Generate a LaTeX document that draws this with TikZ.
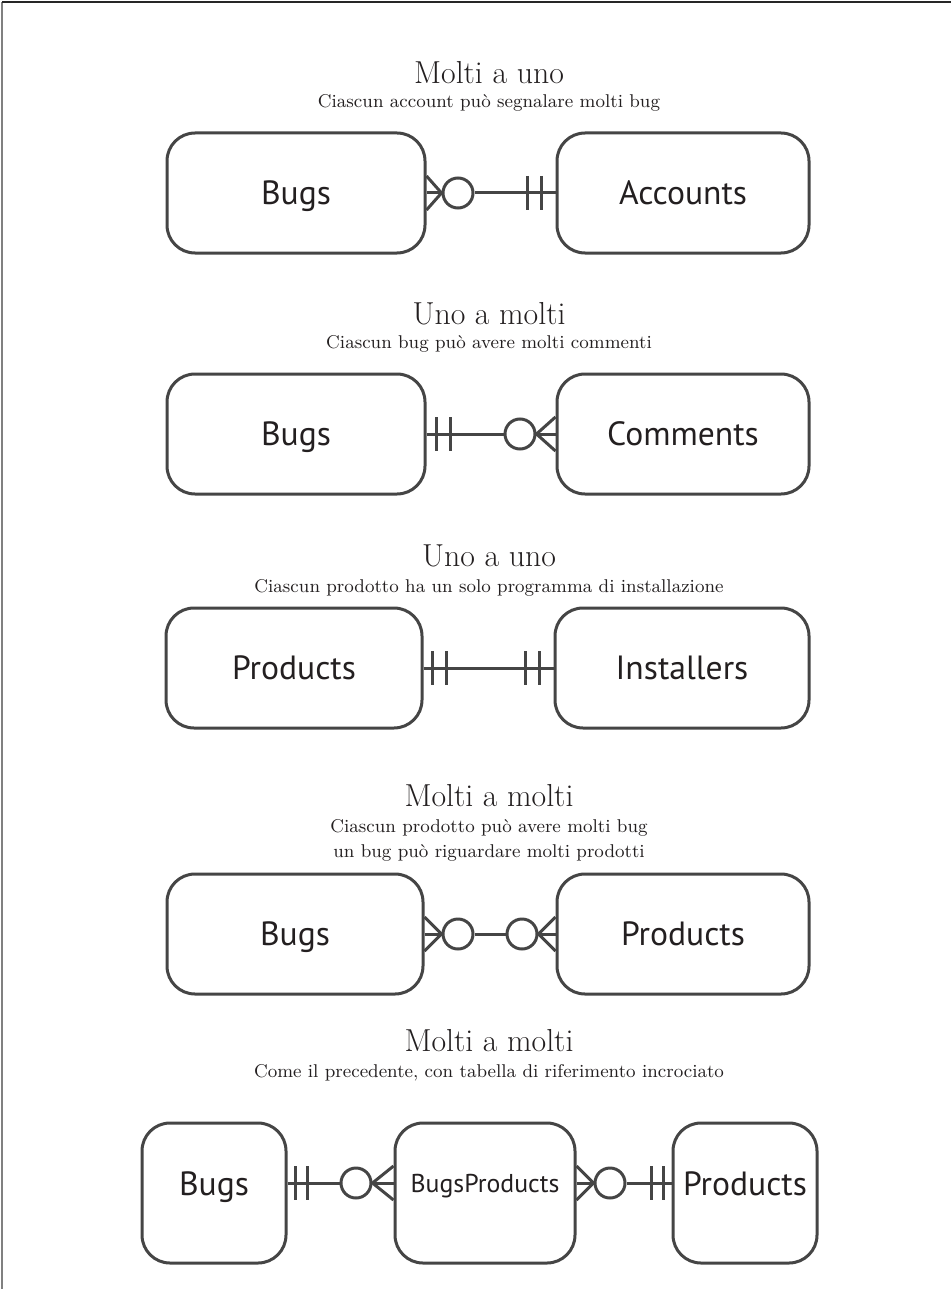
\documentclass[tikz,border=0pt]{standalone}
\usepackage{fontspec}
\newfontfamily\boxfont{PT Sans}
\usetikzlibrary{calc}
\definecolor{ergray}{HTML}{454545}
\definecolor{ink}{HTML}{231F20}
\tikzset{
  entity/.style={draw=ergray, line width=1.5pt, rounded corners=14pt,
    minimum height=60pt, inner sep=0pt, text=ink,
    text height=12.5pt, text depth=0.7pt,
    font=\boxfont\fontsize{16.8}{18}\selectfont},
  zero/.style={circle, draw=ergray, line width=1.5pt, fill=white,
    minimum size=15pt, inner sep=0pt},
  link/.style={draw=ergray, line width=1.5pt},
  title/.style={anchor=base, text=ink, font=\fontsize{15.9}{18}\selectfont},
  subtitle/.style={anchor=base, text=ink, font=\fontsize{9.25}{11}\selectfont}
}
\begin{document}
\begin{tikzpicture}[x=0.5pt, y=-0.5pt]
    \useasboundingbox (0,0) rectangle (951,1289);
    \draw [gray, line width=0.6pt] (2,1289) -- (2,2);
    \draw [black!85, line width=0.8pt] (2,2) -- (951,2);

    \node [title]    (titleA) at (489,84)  {Molti a uno};
    \node [subtitle] (subA)   at (489,108) {Ciascun account può segnalare molti bug};
    \node [entity, minimum width=129pt]  (bugsA)    at (296,193) {Bugs};
    \node [entity, minimum width=126pt]  (accounts) at (683,193) {Accounts};
    \node [zero] (zeroA) at (458,193) {};
    \draw [link] (bugsA) -- (zeroA) -- (accounts);
    \draw [link] ($(bugsA.east)+(0,-17)$) -- (zeroA.west) -- ($(bugsA.east)+(0,17)$);
    \draw [link] ($(accounts.west)+(-14,-17)$) -- ($(accounts.west)+(-14,17)$);
    \draw [link] ($(accounts.west)+(-28,-17)$) -- ($(accounts.west)+(-28,17)$);

    \node [title]    (titleB) at (489,324) {Uno a molti};
    \node [subtitle] (subB)   at (489,348) {Ciascun bug può avere molti commenti};
    \node [entity, minimum width=129pt]  (bugsB)    at (296,434) {Bugs};
    \node [entity, minimum width=126pt]  (comments) at (683,434) {Comments};
    \node [zero] (zeroB) at (520,434) {};
    \draw [link] (bugsB) -- (zeroB) -- (comments);
    \draw [link] ($(comments.west)+(0,-17)$) -- (zeroB.east) -- ($(comments.west)+(0,17)$);
    \draw [link] ($(bugsB.east)+(10,-17)$) -- ($(bugsB.east)+(10,17)$);
    \draw [link] ($(bugsB.east)+(24,-17)$) -- ($(bugsB.east)+(24,17)$);

    \node [title]    (titleC) at (489,566) {Uno a uno};
    \node [subtitle] (subC)   at (489,592) {Ciascun prodotto ha un solo programma di installazione};
    \node [entity, minimum width=128pt]  (productsC)  at (294,668) {Products};
    \node [entity, minimum width=127pt]  (installers) at (682,668) {Installers};
    \draw [link] (productsC) -- (installers);
    \draw [link] ($(productsC.east)+(9,-17)$) -- ($(productsC.east)+(9,17)$);
    \draw [link] ($(productsC.east)+(23,-17)$) -- ($(productsC.east)+(23,17)$);
    \draw [link] ($(installers.west)+(-14,-17)$) -- ($(installers.west)+(-14,17)$);
    \draw [link] ($(installers.west)+(-28,-17)$) -- ($(installers.west)+(-28,17)$);

    \node [title]    (titleD) at (489,806) {Molti a molti};
    \node [subtitle] (subD)   at (489,832) {Ciascun prodotto può avere molti bug};
    \node [subtitle] (subDD)  at (489,857) {un bug può riguardare molti prodotti};
    \node [entity, minimum width=128pt]  (bugsD)     at (295,934) {Bugs};
    \node [entity, minimum width=126pt]  (productsD) at (683,934) {Products};
    \node [zero] (zeroD)  at (458,934) {};
    \node [zero] (zeroDD) at (522,934) {};
    \draw [link] (bugsD) -- (zeroD) -- (zeroDD) -- (productsD);
    \draw [link] ($(bugsD.east)+(0,-17)$) -- (zeroD.west) -- ($(bugsD.east)+(0,17)$);
    \draw [link] ($(productsD.west)+(0,-17)$) -- (zeroDD.east) -- ($(productsD.west)+(0,17)$);

    \node [title]    (titleE) at (489,1051) {Molti a molti};
    \node [subtitle] (subE)   at (489,1077) {Come il precedente, con tabella di riferimento incrociato};
    \node [entity, minimum width=72pt, minimum height=70pt, text height=12.5pt, text depth=10.5pt]
        (bugsE) at (214,1193) {Bugs};
    \node [entity, minimum width=90pt, minimum height=70pt, text height=9.5pt, text depth=10.5pt,
        font=\boxfont\fontsize{12.9}{14}\selectfont]
        (bugsproducts) at (485,1193) {BugsProducts};
    \node [entity, minimum width=72pt, minimum height=70pt, text height=12.5pt, text depth=10.5pt]
        (productsE) at (745,1193) {Products};
    \node [zero] (zeroE)  at (356,1183) {};
    \node [zero] (zeroEE) at (610,1183) {};
    \draw [link] (zeroE -| bugsE.east) -- (zeroE) -- (zeroE -| bugsproducts.west);
    \draw [link] (zeroEE -| bugsproducts.east) -- (zeroEE) -- (zeroEE -| productsE.west);
    \draw [link] ($(zeroE -| bugsE.east)+(8,-17)$) -- ($(zeroE -| bugsE.east)+(8,17)$);
    \draw [link] ($(zeroE -| bugsE.east)+(20,-17)$) -- ($(zeroE -| bugsE.east)+(20,17)$);
    \draw [link] ($(zeroE -| bugsproducts.west)+(0,-17)$) -- (zeroE.east) -- ($(zeroE -| bugsproducts.west)+(0,17)$);
    \draw [link] ($(zeroEE -| bugsproducts.east)+(0,-17)$) -- (zeroEE.west) -- ($(zeroEE -| bugsproducts.east)+(0,17)$);
    \draw [link] ($(zeroEE -| productsE.west)+(-8,-17)$) -- ($(zeroEE -| productsE.west)+(-8,17)$);
    \draw [link] ($(zeroEE -| productsE.west)+(-20,-17)$) -- ($(zeroEE -| productsE.west)+(-20,17)$);
\end{tikzpicture}
\end{document}
